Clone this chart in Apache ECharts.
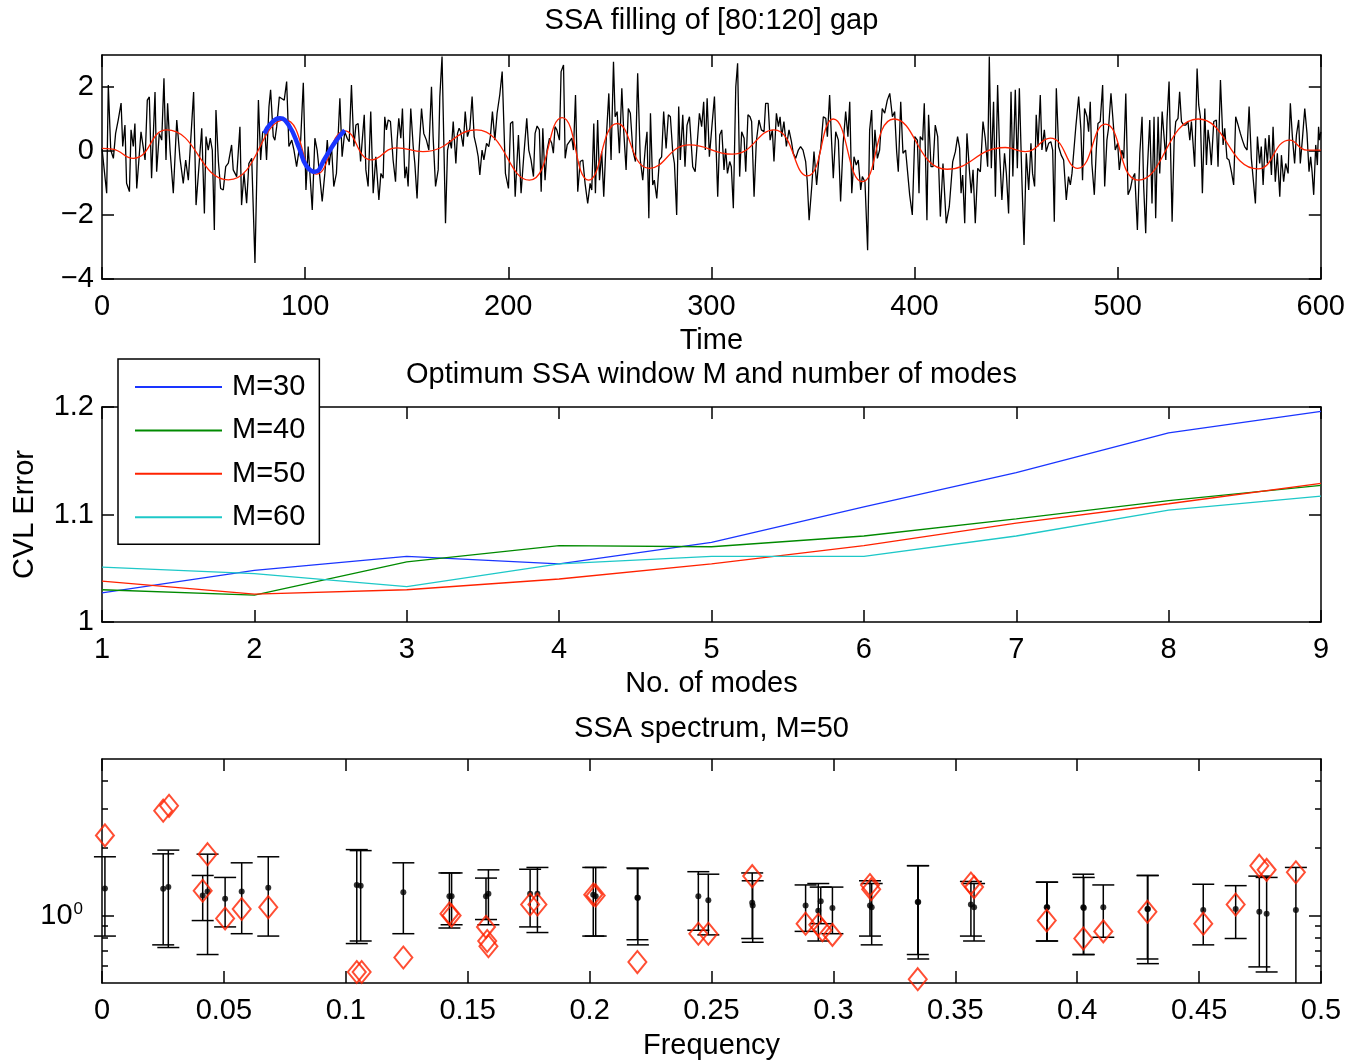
<!DOCTYPE html>
<html><head><meta charset="utf-8">
<script src="https://cdn.jsdelivr.net/npm/echarts@6/dist/echarts.min.js"></script>
<style>html,body{margin:0;padding:0;background:#fff}#c{width:1348px;height:1061px}</style>
</head><body><div id="c"></div>
<script>
// ---- Panel 1: time series (time, value) ----
const blackSeries = [
[0,0.08],[2.3,-1.32],[3.1,2.06],[4.3,0.03],[5.6,-0.23],[6.7,0.55],[8.0,0.97],[9.4,1.5],[10.2,0.14],[11.3,0.81],[12.1,-1.01],[13.5,-1.27],[14.3,0.66],[15.4,0.14],[16.2,0.86],[17.1,-1.17],[19.2,0.6],[21.2,-0.28],[22.3,1.59],[23.3,1.69],[24.4,-0.85],[26.1,1.84],[26.9,-0.65],[28.2,0.55],[29.4,0.34],[30.5,2.27],[31.5,-0.28],[32.3,1.49],[33.5,0.03],[35.1,-1.32],[36.8,0.97],[38.4,-0.23],[40.0,-1.01],[41.2,-0.28],[42.5,-0.91],[45.1,1.84],[46.3,-1.69],[47.6,-0.59],[49.1,0.71],[50.4,-1.95],[51.2,0.45],[52.3,0.03],[53.3,0.4],[54.3,0.03],[55.3,-2.47],[56.1,1.28],[57.3,-0.33],[58.4,-1.17],[59.7,-1.22],[60.9,-0.49],[62.2,-0.38],[63.8,0.19],[64.6,-0.59],[66.3,-0.8],[67.9,0.76],[68.7,-1.69],[69.9,-0.7],[71.2,-1.63],[72.3,-0.39],[73.7,-0.23],[75.3,-3.5],[77.0,1.59],[78.1,-0.28],[79.1,0.6],[80.2,0.6],[81.0,-0.28],[82.2,1.39],[83.0,1.91],[84.3,0.45],[85.1,0.34],[86.0,0.76],[87.3,1.69],[88.4,1.64],[89.7,1.59],[90.9,2.17],[92.0,0.14],[93.4,0.34],[94.5,0.03],[95.8,-0.49],[97.0,0.03],[97.8,0.34],[99.1,2.13],[100.4,-1.22],
[101.5,0.14],[103.5,-1.84],[104.8,0.4],[105.9,0.03],[106.9,-0.59],[108.4,-1.58],[109.7,-0.7],[110.9,0.34],[111.8,-0.44],[113,0.14],[114.1,-1.11],[115.4,-0.7],[117.1,1.65],[118.2,-0.18],[119.5,0.6],[120.7,0.4],[121.7,0.29],[122.8,2.06],[124,0.14],[125,0.81],[126.1,0.86],[127.3,-0.33],[128.2,-0.39],[129.1,1.13],[129.9,-0.59],[131,-1.11],[132.3,1.23],[133.5,-1.32],[134.8,-0.18],[136.3,-1.53],[137.3,-0.7],[138.4,-0.85],[139.2,1.07],[140,0.66],[140.9,0.97],[142,0.92],[143.3,-0.28],[144.5,-0.96],[145.3,0.34],[146.1,1.02],[147.1,0.4],[147.9,1.33],[149.1,-0.85],[149.9,-0.49],[150.7,-1.11],[152,1.33],[153.2,0.14],[154,-0.39],[155.1,-1.48],[156.1,0.03],[157.3,1.33],[158.4,0.55],[159.7,0.34],[160.9,0.03],[162.2,2.01],[163,0.45],[164.2,-1.11],[165.5,-0.59],[166.3,1.7],[167.4,2.95],[169.1,-2.26],[170.1,0.03],[171.2,0.34],[172,0.08],[172.9,0.92],[174.2,-0.39],[175,0.55],[175.8,0.71],[176.6,0.6],[177.8,0.14],[178.8,1.23],[179.9,0.45],[181.1,0.71],[182.2,1.7],[183.2,0.45],[184.3,0.14],[185.2,-0.18],[186,-0.75],[187.1,0.03],[188,-0.28],[189.3,0.24],[190.4,0.14],[191.2,0.45],[192.2,1.23],[193.4,0.34],[194.5,1.18],[195.8,1.75],[197,2.48],
[198.6,-0.7],[200.1,-1.17],[201.1,0.86],[202.2,0.92],[203.4,-1.43],[205,0.5],[206.3,-1.32],[207.6,-0.18],[209.1,1.02],[210.1,0.03],[211.2,-0.28],[212.4,-0.8],[213.2,0.55],[214.2,0.78],[215.3,0.66],[216.2,-1.27],[217,0.71],[218.1,-0.91],[219.1,0.03],[220.3,0.4],[221.4,0.24],[222.2,-0.07],[223,0.76],[223.9,0.66],[225.2,0.34],[226,2.48],[227.2,2.69],[228,-0.23],[229,0.19],[230.1,0.29],[231.3,0.4],[232.1,0.03],[233.1,1.75],[234.2,-1.27],[235.4,-0.33],[236.7,-0.28],[237.8,-1.01],[239.1,-1.64],[240.3,-1.01],[241.1,-1.22],[242.1,0.86],[242.9,-1.32],[244,0.97],[244.9,-0.91],[246,-0.02],[247,-1.43],[248.2,0.34],[249.5,1.8],[250.6,-0.28],[251.8,2.79],[252.6,1.07],[253.6,1.23],[254.7,-0.07],[255.9,1.96],[256.8,0.66],[258,-0.59],[259.1,1.33],[260.1,1.18],[261.3,0.03],[262.6,-0.33],[263.7,2.43],[265,-0.28],[266.2,-0.91],[267.5,0.14],[268.3,0.6],[269.2,-2.1],[270,1.18],[271.1,-1.06],[271.9,-0.91],[273.1,-1.48],[274.4,-0.28],[275.5,-0.18],[276.5,1.23],[277.7,0.08],[278.8,1.13],[279.8,1.07],[281,-0.07],[281.8,-0.39],[282.9,-2.0],[283.9,1.39],[284.7,-0.28],[285.9,1.13],[287,-0.49],[288,0.81],[289.2,1.07],[290,1.13],[290.8,-0.49],[292,-0.65],[292.9,0.14],[294.1,1.18],[295.2,0.76],[296.2,1.54],[297,0.03],[297.9,1.65],[299,-0.18],[300.3,0.81],[301.5,1.7],[303.1,-1.43],
[304.1,0.5],[305.1,0.66],[306.2,-0.59],[307,0.08],[307.9,-0.7],[309,-0.33],[309.8,-0.49],[310.8,-1.79],[312,2.01],[312.9,2.74],[313.9,-0.8],[314.9,0.6],[316.1,0.4],[316.9,-0.65],[318,1.13],[319,1.07],[319.8,0.92],[321,-1.43],[322.1,0.29],[323.4,0.97],[324.6,0.66],[325.9,0.6],[326.7,1.49],[327.9,1.49],[328.9,0.34],[330,0.66],[330.8,-0.33],[332,1.18],[333,0.76],[333.8,1.07],[334.6,0.45],[335.7,0.92],[336.9,0.14],[338.2,0.66],[339.4,0.29],[340.3,-0.07],[341.5,-0.23],[342.8,0.03],[343.9,0.14],[345.1,0.03],[346.4,-0.33],[347.2,-0.96],[348.1,-2.16],[349.4,-1.11],[350.5,-0.02],[351.8,-1.06],[353,-0.18],[353.8,0.08],[355.1,1.07],[356.3,1.02],[357.1,0.45],[358.2,1.75],[359.2,0.24],[360,-0.85],[361.2,0.6],[362.5,0.34],[363.6,-1.58],[364.8,0.19],[366.1,1.23],[367.2,0.45],[368.1,1.54],[369.1,-1.32],[370.2,-0.18],[371.3,-0.44],[372.3,-0.28],[373.5,-1.22],[374.3,-0.8],[375.6,-0.96],[376.9,-3.1],[377.9,0.66],[378.9,1.28],[379.7,-0.59],[380.5,0.66],[381.7,-0.23],[382.8,0.03],[384.1,1.33],[385.3,1.18],[386.6,1.59],[387.8,1.8],[389.1,1.07],[390.2,1.23],[391.2,-0.02],[392,-0.65],[393.2,1.54],[394.3,-0.07],[395.6,0.03],[396.4,-0.02],[397.6,-1.37],[398.9,-2.0],[400.1,0.45],[401.4,0.34],[402.2,-1.32],
[402.8,0.45],[404,0.34],[404.8,1.49],[406.1,-2.16],[406.9,1.13],[408.1,-0.49],[409.1,-0.49],[410.2,0.81],[411.4,0.45],[412.7,-2.05],[414,-0.39],[415.6,-2.26],[417.1,-1.74],[418.8,-0.33],[420.1,-0.02],[421.2,0.45],[422.2,0.08],[422.9,-1.32],[423.7,-0.75],[424.7,-2.26],[425.8,0.55],[427,-0.59],[427.9,-1.32],[428.8,-0.59],[429.9,-2.26],[431.1,-0.54],[432.4,-0.65],[433.7,0.92],[434.8,0.4],[436,-0.49],[436.8,2.95],[437.8,-0.54],[438.9,1.54],[439.8,-1.43],[440.9,2.06],[441.9,-0.07],[443,-1.53],[444.3,-0.07],[445.2,-0.7],[446.3,-1.95],[447.5,1.85],[448.4,-0.8],[449.6,1.91],[450.6,-0.54],[451.6,1.96],[452.9,-1.01],[453.9,-2.94],[455,-0.07],[456.2,-1.22],[457.3,0.24],[458.1,-0.7],[459.1,-1.11],[459.9,1.13],[460.8,0.14],[461.9,1.75],[462.7,0.03],[463.9,0.66],[464.8,-0.02],[466,0.24],[467.1,0.29],[468,0.03],[468.8,-2.21],[469.8,1.96],[470.9,0.14],[472.2,-0.13],[473.4,-0.28],[474.7,-1.53],[475.8,-0.8],[476.7,-1.06],[477.5,-0.7],[478.6,0.14],[479.4,0.76],[480.8,1.7],[481.9,0.66],[482.7,-0.91],[483.7,1.33],[484.9,1.07],[485.7,0.6],[486.5,1.54],[487.3,-0.39],[488.5,-1.37],[489.5,0.08],[490.3,0.86],[491.4,0.92],[492.6,2.06],[493.6,-1.11],[494.7,0.34],[495.5,0.71],[496.7,1.8],[497.7,0.97],[498.8,0.03],[500,0.24],[500.8,-0.59],[502.1,0.03],
[503,-0.23],[504,1.8],[505.1,-1.37],[506.3,-1.17],[507.3,-0.85],[508.4,-0.7],[509.7,-2.47],[510.9,-0.07],[512,1.07],[512.8,-1.11],[513.8,-2.57],[514.6,-0.59],[515.8,0.97],[516.9,-1.64],[517.9,1.07],[518.7,-2.1],[519.9,1.07],[520.7,-0.7],[521.9,1.23],[522.7,1.23],[523.7,-0.28],[524.3,0.97],[525.3,2.17],[526.8,-2.21],[527.8,0.34],[528.6,0.92],[529.7,1.02],[530.5,1.85],[531.4,0.92],[532.5,0.81],[533.5,0.81],[534.6,0.92],[535.5,0.34],[536.3,0.92],[537.1,0.24],[537.9,-0.49],[539.1,2.58],[539.9,1.44],[540.7,1.07],[541.7,-1.32],[542.9,1.33],[543.7,-0.44],[544.5,0.66],[545.3,0.24],[546.1,-0.44],[547.3,0.92],[548.6,0.97],[549.4,-0.49],[550.6,2.22],[551.9,0.19],[552.7,0.71],[553.8,-0.23],[554.8,-0.28],[556,-0.65],[557.1,-1.06],[558.1,1.07],[559.3,0.81],[560.4,0.55],[561.4,0.34],[562.5,0.14],[563.7,0.03],[564.7,1.39],[565.8,-0.23],[566.6,-0.18],[567.8,-1.64],[568.8,0.45],[569.9,-0.39],[570.7,0.14],[571.6,-1.06],[572.7,0.4],[573.7,-0.39],[574.5,0.5],[575.7,-0.75],[576.5,0.76],[577.6,-0.96],[578.6,-0.07],[579.8,-1.43],[580.6,-0.13],[581.7,-0.96],[582.7,-0.39],[583.9,-0.7],[585,1.49],[586,0.45],[587.1,-0.39],[588,0.5],[589.1,0.97],[589.9,-0.39],[590.9,0.34],[592.1,1.33],[593.2,0.55],[594.2,-0.65],[595,-0.18],[595.7,-0.65],[596.5,-1.37],[597.5,0.19],[598.3,-0.44],[598.9,0.76],[599.4,0.34],[600,0.6]
];
const redSeries = [
[0,0.08],[5,0.06],[15.4,-0.23],[31.8,0.66],[62.2,-0.9],[90,0.97],[105.6,-0.72],[119.5,0.63],[132.7,-0.28],[145,0.1],[158,-0.02],[184.3,0.66],[210.4,-0.91],[226.5,1.04],[239.6,-0.91],[253.6,0.86],[269.5,-0.54],[289.2,0.19],[310.3,-0.1],[330.8,0.66],[347.2,-0.78],[360,1.0],[374.3,-0.96],[389.9,1.0],[416,-0.57],[444.7,0.11],[454.5,-0.02],[466.8,0.4],[480.3,-0.54],[493.9,0.84],[510,-0.91],[539.6,1.0],[569.1,-0.56],[584.7,0.34],[593,0.03],[600,0.03]
];
const blueSeries = [
[80,0.55],[83,0.85],[87.6,1.02],[92,0.8],[97,0.1],[100.5,-0.45],[104.8,-0.65],[110,-0.2],[115,0.3],[119.5,0.65]
];
const timeTicks = [-4, -2, 0, 2];

// ---- Panel 2: CVL error vs number of modes ----
const modes = [1, 2, 3, 4, 5, 6, 7, 8, 9];
const m30 = [1.027, 1.048, 1.061, 1.054, 1.074, 1.107, 1.139, 1.176, 1.196];
const m40 = [1.030, 1.025, 1.056, 1.071, 1.070, 1.080, 1.096, 1.113, 1.127];
const m50 = [1.038, 1.026, 1.030, 1.040, 1.054, 1.071, 1.092, 1.110, 1.129];
const m60 = [1.051, 1.045, 1.033, 1.054, 1.061, 1.061, 1.080, 1.104, 1.117];
const cvlTicks = [1, 1.1, 1.2];

// ---- Panel 3: SSA spectrum ----
const ebFreq = [0.0012,0.0251,0.0272,0.0413,0.0433,0.0505,0.0573,0.0682,0.1045,0.1061,0.1236,0.1425,0.1434,0.1575,0.1585,0.1756,0.1786,0.2015,0.2025,0.2196,0.2198,0.2446,0.2487,0.2667,0.2669,0.2886,0.2938,0.2948,0.2996,0.315,0.3157,0.3346,0.3348,0.3564,0.3577,0.3875,0.3877,0.4025,0.4027,0.4107,0.4288,0.4290,0.4517,0.465,0.4747,0.4777,0.4897];
const ebLow  = [0.81,0.74,0.72,0.95,0.67,0.89,0.83,0.81,0.75,0.77,0.83,0.88,0.91,0.96,0.91,0.89,0.84,0.81,0.81,0.78,0.74,0.86,0.82,0.79,0.76,0.85,0.77,0.92,0.83,0.81,0.74,0.67,0.64,0.81,0.77,0.77,0.77,0.67,0.67,0.80,0.64,0.61,0.74,0.79,0.59,0.56,0.45];
const ebMid  = [1.32,1.316,1.34,1.23,1.28,1.19,1.28,1.33,1.37,1.36,1.27,1.22,1.22,1.22,1.25,1.25,1.25,1.24,1.22,1.20,1.20,1.22,1.17,1.14,1.11,1.11,1.05,1.16,1.08,1.11,1.09,1.15,1.15,1.12,1.09,1.09,1.09,1.09,1.08,1.09,1.07,1.07,1.06,1.07,1.04,1.02,1.06];
const ebHigh = [1.83,1.886,1.96,1.51,1.88,1.48,1.72,1.83,1.97,1.95,1.72,1.55,1.55,1.47,1.60,1.61,1.64,1.64,1.64,1.63,1.62,1.57,1.53,1.55,1.43,1.37,1.39,1.34,1.34,1.43,1.39,1.67,1.67,1.42,1.39,1.41,1.41,1.53,1.48,1.37,1.51,1.51,1.38,1.36,1.50,1.48,1.64];
const dmFreq = [0.0012,0.0251,0.0275,0.0433,0.0413,0.0505,0.0573,0.0682,0.1045,0.1065,0.1236,0.1425,0.1434,0.1575,0.158,0.1585,0.1756,0.1786,0.2015,0.2025,0.2196,0.2446,0.2487,0.2667,0.2886,0.2938,0.2955,0.2996,0.315,0.3155,0.3346,0.3564,0.3577,0.3875,0.4025,0.4107,0.4288,0.4517,0.465,0.4747,0.4777,0.4897];
const dmVal  = [2.28,2.94,3.09,1.88,1.29,0.97,1.07,1.09,0.56,0.56,0.65,1.02,1.00,0.89,0.77,0.73,1.12,1.12,1.24,1.23,0.62,0.83,0.83,1.50,0.92,0.91,0.86,0.82,1.37,1.31,0.52,1.39,1.34,0.95,0.79,0.85,1.04,0.92,1.12,1.67,1.60,1.56];
const logMajor = [1];
const logMinor = [0.6, 0.7, 0.8, 0.9, 2, 3, 4];

const FONT = "'Liberation Sans', Arial, Helvetica, sans-serif";
const FS = 29;
const RED = '#ff2200';
const AX = {color: '#000', width: 1.5};

function fmtNum(v) { const s = String(+Number(v).toFixed(2)); return v < 0 ? '\u2212' + s.slice(1) : s; }

function xAxisDef(grid, pos, min, max, interval, opt) {
  return Object.assign({
    type: 'value', gridIndex: grid, position: pos, min: min, max: max, interval: interval,
    axisLine: {show: true, onZero: false, lineStyle: AX},
    axisTick: {show: true, inside: true, length: 12, lineStyle: AX},
    axisLabel: {show: pos === 'bottom', color: '#000', fontSize: FS, fontFamily: FONT, margin: 13, formatter: fmtNum},
    splitLine: {show: false},
    nameLocation: 'middle',
    nameTextStyle: {color: '#000', fontSize: FS, fontFamily: FONT}
  }, opt);
}
function yAxisDef(grid, pos, min, max, ticks, opt) {
  return Object.assign({
    type: 'value', gridIndex: grid, position: pos, min: min, max: max,
    axisLine: {show: true, onZero: false, lineStyle: AX},
    axisTick: {show: true, inside: true, length: 12, lineStyle: AX, customValues: ticks},
    axisLabel: {show: pos === 'left', color: '#000', fontSize: FS, fontFamily: FONT, margin: 8, formatter: fmtNum, customValues: ticks},
    splitLine: {show: false},
    nameLocation: 'middle',
    nameTextStyle: {color: '#000', fontSize: FS, fontFamily: FONT}
  }, opt);
}
function logAxisDef(pos, ticks, len, showLine, showLabel) {
  return {
    type: 'log', logBase: 10, gridIndex: 2, position: pos, min: 0.5, max: 5,
    axisLine: {show: showLine, onZero: false, lineStyle: AX},
    axisTick: {show: true, inside: true, length: len, lineStyle: AX, customValues: ticks},
    axisLabel: {show: showLabel, color: '#000', margin: 19, customValues: ticks,
      formatter: function () { return '{b|10}{s|0}'; },
      rich: {b: {fontSize: FS, fontFamily: FONT, color: '#000'},
             s: {fontSize: 17, fontFamily: FONT, color: '#000', verticalAlign: 'top', padding: [0, 0, 0, 1]}}},
    splitLine: {show: false}
  };
}

const chart = echarts.init(document.getElementById('c'), null, {renderer: 'canvas'});
chart.setOption({
  animation: false,
  backgroundColor: '#fff',
  grid: [
    {left: 102, top: 55, width: 1219, height: 224},
    {left: 102, top: 407, width: 1219, height: 215},
    {left: 102, top: 759, width: 1219, height: 224}
  ],
  legend: {
    data: ['M=30', 'M=40', 'M=50', 'M=60'],
    orient: 'vertical', left: 118, top: 359,
    padding: [12, 14, 11, 17], itemGap: 11.4, itemWidth: 87, itemHeight: 2, icon: 'rect',
    textStyle: {fontSize: FS, fontFamily: FONT, color: '#000', lineHeight: 32, padding: [0, 0, 0, 5]},
    borderColor: '#000', borderWidth: 1.5, backgroundColor: '#fff',
    selectedMode: false, z: 10
  },
  xAxis: [
    xAxisDef(0, 'bottom', 0, 600, 100, {name: 'Time', nameGap: 47}),
    xAxisDef(0, 'top', 0, 600, 100, {name: 'SSA filling of [80:120] gap', nameGap: 20}),
    xAxisDef(1, 'bottom', 1, 9, 1, {name: 'No. of modes', nameGap: 47}),
    xAxisDef(1, 'top', 1, 9, 1, {name: 'Optimum SSA window M and number of modes', nameGap: 18}),
    xAxisDef(2, 'bottom', 0, 0.5, 0.05, {name: 'Frequency', nameGap: 48}),
    xAxisDef(2, 'top', 0, 0.5, 0.05, {name: 'SSA spectrum, M=50', nameGap: 16})
  ],
  yAxis: [
    yAxisDef(0, 'left', -4, 3, timeTicks),
    yAxisDef(0, 'right', -4, 3, timeTicks),
    yAxisDef(1, 'left', 1, 1.2, cvlTicks, {name: 'CVL Error', nameGap: 63}),
    yAxisDef(1, 'right', 1, 1.2, cvlTicks),
    logAxisDef('left', logMajor, 12, true, true),
    logAxisDef('left', logMinor, 6, false, false),
    logAxisDef('right', logMajor, 12, true, false),
    logAxisDef('right', logMinor, 6, false, false)
  ],
  series: [
    {type: 'line', xAxisIndex: 0, yAxisIndex: 0, data: blackSeries, showSymbol: false, symbol: 'none',
     lineStyle: {color: '#000', width: 1.3}, itemStyle: {color: '#000'}, z: 2},
    {type: 'line', xAxisIndex: 0, yAxisIndex: 0, data: redSeries, showSymbol: false, symbol: 'none', smooth: 0.5,
     lineStyle: {color: RED, width: 1.3}, itemStyle: {color: RED}, z: 3},
    {type: 'line', xAxisIndex: 0, yAxisIndex: 0, data: blueSeries, showSymbol: false, symbol: 'none', smooth: 0.5,
     lineStyle: {color: '#1a35ff', width: 4.5}, itemStyle: {color: '#1a35ff'}, z: 4},

    {name: 'M=30', type: 'line', xAxisIndex: 2, yAxisIndex: 2, data: modes.map((m, i) => [m, m30[i]]), showSymbol: false, symbol: 'none',
     lineStyle: {color: '#1a35ff', width: 1.3}, itemStyle: {color: '#1a35ff'}},
    {name: 'M=40', type: 'line', xAxisIndex: 2, yAxisIndex: 2, data: modes.map((m, i) => [m, m40[i]]), showSymbol: false, symbol: 'none',
     lineStyle: {color: '#008a00', width: 1.3}, itemStyle: {color: '#008a00'}},
    {name: 'M=50', type: 'line', xAxisIndex: 2, yAxisIndex: 2, data: modes.map((m, i) => [m, m50[i]]), showSymbol: false, symbol: 'none',
     lineStyle: {color: RED, width: 1.3}, itemStyle: {color: RED}},
    {name: 'M=60', type: 'line', xAxisIndex: 2, yAxisIndex: 2, data: modes.map((m, i) => [m, m60[i]]), showSymbol: false, symbol: 'none',
     lineStyle: {color: '#1ec8c8', width: 1.3}, itemStyle: {color: '#1ec8c8'}},

    {type: 'custom', xAxisIndex: 4, yAxisIndex: 4,
     data: ebFreq.map((f, i) => [f, ebLow[i], ebHigh[i]]),
     encode: {x: 0, y: [1, 2]},
     renderItem: function (params, api) {
       const f = api.value(0), lo = api.value(1), hi = api.value(2);
       const pHi = api.coord([f, hi]);
       const pLo = api.coord([f, lo]);
       const cs = params.coordSys;
       const bottom = cs.y + cs.height;
       const w = 11;
       const st = {stroke: '#000', lineWidth: 1.5};
       let yLo = pLo[1], capLo = true;
       if (yLo > bottom) { yLo = bottom; capLo = false; }
       const ch = [
         {type: 'line', shape: {x1: pHi[0], y1: pHi[1], x2: pHi[0], y2: yLo}, style: st},
         {type: 'line', shape: {x1: pHi[0] - w, y1: pHi[1], x2: pHi[0] + w, y2: pHi[1]}, style: st}
       ];
       if (capLo) ch.push({type: 'line', shape: {x1: pLo[0] - w, y1: yLo, x2: pLo[0] + w, y2: yLo}, style: st});
       return {type: 'group', children: ch};
     }, z: 3},
    {type: 'scatter', xAxisIndex: 4, yAxisIndex: 4, data: ebFreq.map((f, i) => [f, ebMid[i]]),
     symbol: 'circle', symbolSize: 6, itemStyle: {color: '#000'}, z: 5},
    {type: 'scatter', xAxisIndex: 4, yAxisIndex: 4, data: dmFreq.map((f, i) => [f, dmVal[i]]),
     symbol: 'diamond', symbolSize: [18, 22],
     itemStyle: {color: 'rgba(0,0,0,0)', borderColor: RED, borderWidth: 2}, z: 6}
  ]
});
</script>
</body></html>
